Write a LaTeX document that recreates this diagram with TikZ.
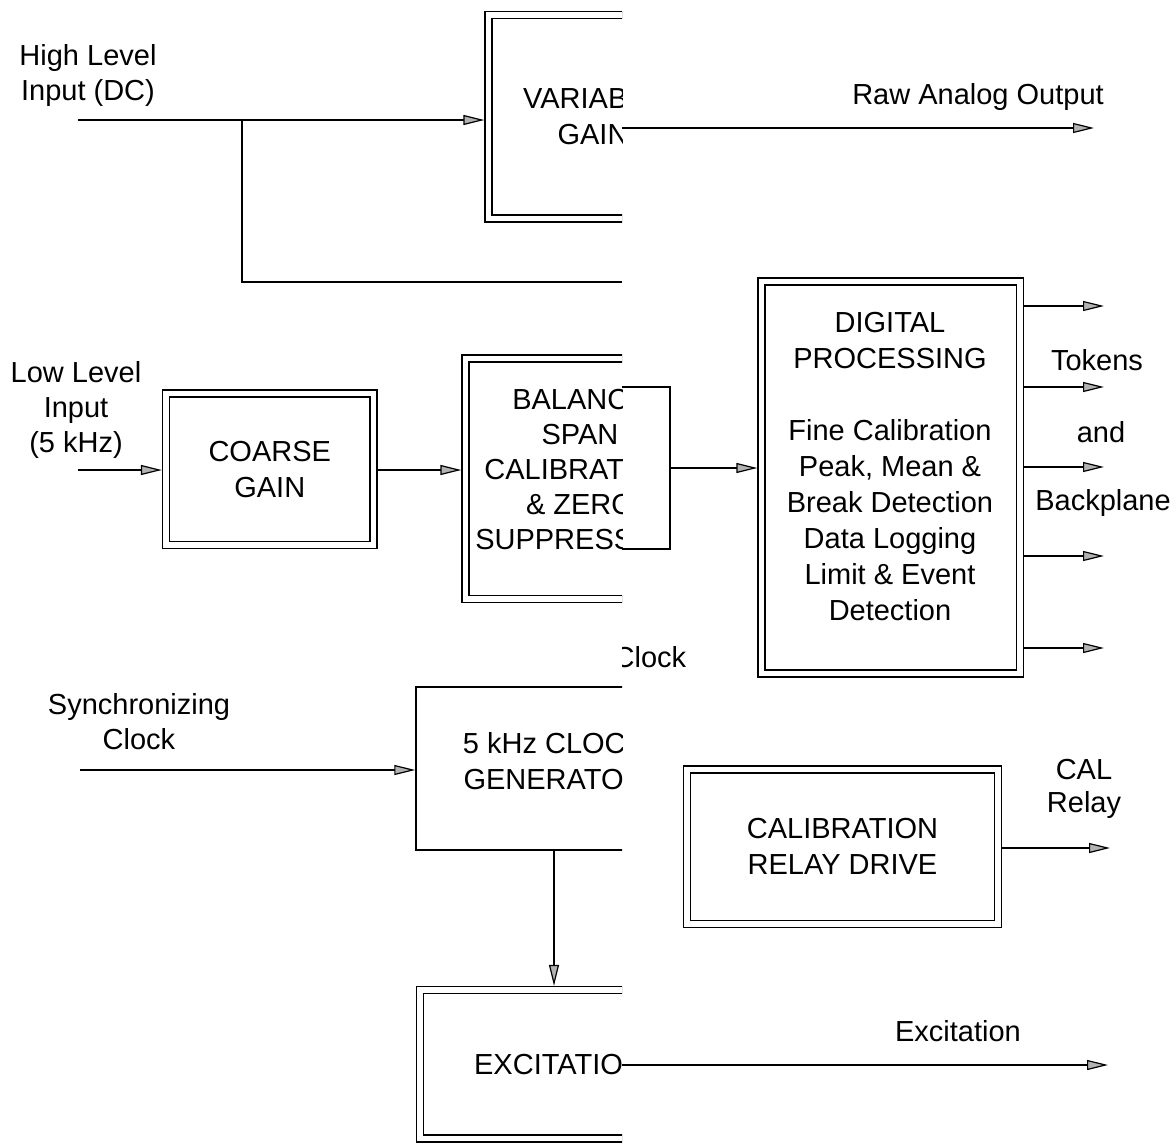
\documentclass[tikz,border=0pt]{standalone}
\usepackage{fontspec}
\setmainfont{Liberation Sans}
\usetikzlibrary{arrows.meta}
\begin{document}
\begin{tikzpicture}[x=1pt,y=-1pt,
  line width=1.5pt,
  every node/.style={font=\fontsize{29}{36}\selectfont, align=center, inner sep=0pt},
  dbox/.style={draw, double, double distance=5.3pt, outer sep=4.15pt, inner sep=0pt},
  sbox/.style={draw, inner sep=0pt},
  arr/.style={-{Triangle[length=21pt,width=10pt,fill=gray!60,line width=1.2pt]}},
  lbl/.style={font=\fontsize{29}{35}\selectfont},
]
\useasboundingbox (0,0) rectangle (1176,1146);

% ---- middle column (clipped on the right at x=622)
\begin{scope}
\clip (0,0) rectangle (622,1146);
\node[dbox, minimum width=209pt, minimum height=203.5pt] (vg) at (593,116.75) {VARIABLE\\GAIN};
\node[dbox, minimum width=229pt, minimum height=240.5pt] (bal) at (580,478.75) {};
\node[lbl] (baltext) at (580,469.5) {BALANCE\\SPAN\\CALIBRATION\\\& ZERO\\SUPPRESSION};
\node[sbox, minimum width=276pt, minimum height=163pt] (clk) at (554,768.5) {};
\node (clktext) at (554,761.5) {5 kHz CLOCK\\GENERATOR};
\node[dbox, minimum width=278pt, minimum height=148.5pt] (exc) at (559,1064.25) {EXCITATION};
\end{scope}

% ---- right part of the "Clock" label (clipped on the left at x=622)
\begin{scope}
\clip (622,0) rectangle (1176,1146);
\node (clocklbl) at (650,657) {Clock};
\end{scope}

% ---- other blocks
\node[dbox, minimum width=207.5pt, minimum height=151.5pt] (cg) at (269.75,469.25) {COARSE\\GAIN};
\node[dbox, minimum width=258.5pt, minimum height=392pt] (dp) at (890.75,477.5) {};
\node (dptext) at (890,467) {DIGITAL\\PROCESSING\\[36pt]Fine Calibration\\Peak, Mean \&\\Break Detection\\Data Logging\\Limit \& Event\\Detection};
\node[dbox, minimum width=311pt, minimum height=154.5pt] (crd) at (842.5,846.75) {CALIBRATION\\RELAY DRIVE};

% ---- labels
\node[lbl] (hilbl) at (88,75.5) {High Level\\Input (DC)};
\node (rawlbl) at (978,97) {Raw Analog Output};
\node[lbl] (lolbl) at (76,410) {Low Level\\Input\\(5 kHz)};
\node[lbl] (synclbl) at (139,722) {Synchronizing\\Clock};
\node (toklbl) at (1097,360) {Tokens};
\node (andlbl) at (1101,432) {and};
\node (bplbl) at (1103,503) {Backplane};
\node[font=\fontsize{29}{33}\selectfont] (callbl) at (1084,789) {CAL\\Relay};
\node (exclbl) at (958,1031) {Excitation};

% ---- high level input
\coordinate (hin) at (78,120);
\coordinate (hbr) at (242,120);
\coordinate (hend) at (622,282);
\draw[arr] (hin) -- (hin -| vg.west);
\draw (hbr) |- (hend);
\coordinate (rawA) at (622,128);
\coordinate (rawB) at (1094,128);
\draw[arr] (rawA) -- (rawB);

% ---- low level input
\coordinate (lin) at (78,470);
\draw[arr] (lin) -- (lin -| cg.west);
\draw[arr] (cg.east |- lin) -- (lin -| bal.west);

% ---- bracket to digital processing
\coordinate (bt) at (622,387);
\coordinate (bb) at (622,549);
\coordinate (bm) at (670,468);
\draw (bt) -| (bm) |- (bb);
\draw[arr] (bm) -- (bm -| dp.west);

% ---- digital outputs
\foreach \yy [count=\i] in {306,387,467,556,648}{
  \coordinate (o\i) at (1104,\yy);
  \draw[arr] (dp.east |- o\i) -- (o\i);
}

% ---- clock
\coordinate (sin) at (80,770);
\draw[arr] (sin) -- (sin -| clk.west);
\draw[arr] (clk.south) -- (clk.south |- exc.north);

% ---- excitation out
\coordinate (exA) at (622,1065);
\coordinate (exB) at (1108,1065);
\draw[arr] (exA) -- (exB);

% ---- CAL relay out
\coordinate (calout) at (1110,848);
\draw[arr] (crd.east |- calout) -- (calout);
\end{tikzpicture}
\end{document}
